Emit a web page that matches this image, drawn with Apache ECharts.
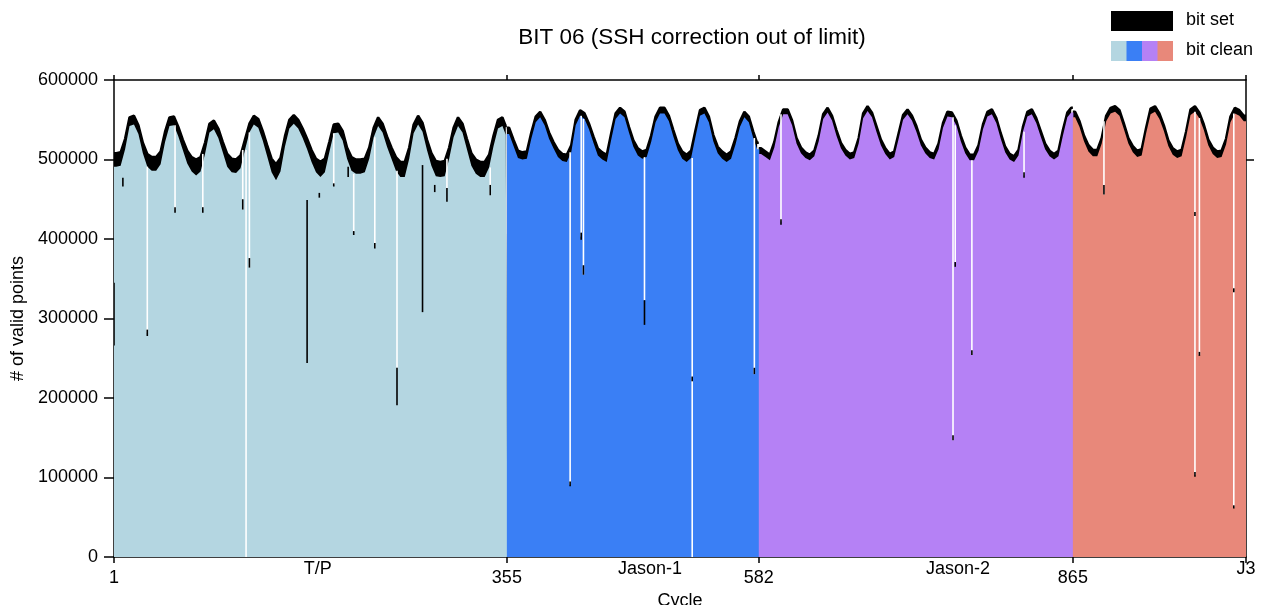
<!DOCTYPE html>
<html>
<head>
<meta charset="utf-8">
<script src="https://cdn.jsdelivr.net/npm/echarts@6/dist/echarts.min.js"></script>
<style>
html,body{margin:0;padding:0;background:#fff;}
#chart{width:1263px;height:605px;}
</style>
</head>
<body>
<div id="chart"></div>
<script>
// ---- data (values in thousands of valid points, one value per 4-cycle bin) ----
const BIN_CYCLES = 4;
const missionNames = ['T/P', 'Jason-1', 'Jason-2', 'J3'];
const missionStarts = [1, 355, 582, 865];
const missionEnds = [355, 582, 865, 1021];
const boundaryTicks = [1, 355, 582, 865, 1021];
const boundaryLabels = ['1', '355', '582', '865'];
const missionLabelCycles = [184.5, 484, 761.5, 1021];
const yTicks = [0, 100000, 200000, 300000, 400000, 500000, 600000];

const tpCleanK = [491,492,513,542,544,532,508,491,486,486,
  494,522,542,543,529,512,495,485,480,485,
  507,534,538,527,509,491,484,483,489,512,
  534,544,540,524,504,484,474,485,516,539,
  545,539,527,513,497,484,478,484,509,533,
  534,524,501,486,482,482,484,501,528,542,
  534,516,501,486,478,478,501,533,544,535,
  512,492,479,478,479,501,528,542,534,513,
  492,482,478,478,490,517,539,542,531];
const tpSetK = [17,17,13,11,11,11,13,16,17,17,
  16,13,11,11,12,13,16,18,20,18,
  14,11,11,12,13,16,17,17,16,13,
  11,11,11,12,14,17,20,17,13,11,
  11,11,12,13,15,17,19,17,13,11,
  11,12,14,17,18,18,17,14,12,11,
  11,13,14,17,19,19,14,11,11,11,
  13,16,19,19,19,14,12,11,11,13,
  16,18,19,19,16,13,11,11,11];

const j1CleanK = [532,517,502,500,501,526,547,553,543,526,
  514,503,498,497,509,543,555,551,538,521,
  505,500,497,525,551,558,553,534,516,505,
  501,503,522,547,558,558,548,529,512,501,
  497,502,529,555,558,547,523,508,501,497,
  501,519,541,553,547,527,513];
const j1SetK = [8,8,9,9,9,8,7,7,7,8,
  8,9,9,9,9,7,7,7,7,8,
  9,9,9,8,7,7,7,7,8,9,
  9,9,8,7,7,7,7,8,8,9,
  9,9,8,7,7,7,8,8,9,9,
  9,8,7,7,7,8,8];

const j2CleanK = [507,503,499,515,541,557,557,543,520,508,
  502,499,504,523,551,559,549,530,514,505,
  500,502,520,552,561,553,535,518,507,500,
  503,526,550,557,549,535,518,508,502,500,
  513,540,554,553,543,523,508,499,499,511,
  538,554,557,546,526,509,500,497,505,535,
  554,557,546,529,513,504,500,504,530,553,
  559];
const j2SetK = [7,7,7,7,6,6,6,6,7,7,
  7,7,7,7,6,6,6,7,7,7,
  7,7,7,6,6,6,7,7,7,7,
  7,7,6,6,6,7,7,7,7,7,
  7,6,6,6,6,7,7,7,7,7,
  6,6,6,6,7,7,7,7,7,6,
  6,6,6,7,7,7,7,7,7,6,
  6];

const j3CleanK = [553,541,523,510,504,504,520,548,558,560,
  555,538,520,509,503,505,533,557,560,551,
  536,517,506,502,504,528,556,560,552,537,
  518,507,502,503,519,547,558,555,548];
const j3SetK = [7,7,7,8,8,8,7,7,7,7,
  7,7,7,8,8,8,7,7,7,7,
  7,7,8,8,8,7,7,7,7,7,
  7,8,8,8,7,7,7,7,7];

// single cycles where the clean count drops: [cycle, value (k)]
const whiteDipsK = [[31,282],[56,437],[81,437],[117,437],[120,0],[123,364],[199,468],
  [217,409],[236,389],[256,238],[301,464],[340,455],[412,91],[422,403],[424,355],
  [479,323],[522,0],[578,230],[602,422],[757,147],[759,371],[774,254],[821,480],
  [893,456],[975,103],[979,254],[1010,62]];
// short "bit set" marks: [cycle, low (k), high (k)]
const blackMarksK = [[1,266,345],[9,466,477],[31,278,286],[56,433,440],[81,433,440],
  [117,437,450],[123,364,376],[175,244,449],[186,452,458],[199,466,470],[212,478,491],
  [217,405,410],[236,388,395],[256,191,238],[279,308,493],[290,459,468],[301,447,464],
  [340,455,468],[412,89,95],[422,399,408],[424,355,367],[479,292,323],[522,221,227],
  [578,230,238],[602,418,425],[757,147,153],[759,365,371],[774,254,260],[821,477,484],
  [893,456,468],[975,429,434],[975,101,107],[979,253,258],[1010,333,338],[1010,61,65]];

const missionColors = ['#b4d6e1', '#3a7ff5', '#b581f5', '#e8887a'];
const FONT = "'Liberation Sans', Helvetica, Arial, sans-serif";

// ---- build per-mission point lists (bin centres, plus mission edges) ----
// "bit set" is stacked on "bit clean": its area is drawn from 0 to clean+set and
// the clean area is painted over it, leaving the set band on top.
const EDGE_OVERLAP = 0.45; // cycles; hides anti-aliasing seams at mission joins
const cleanSeries = [tpCleanK, j1CleanK, j2CleanK, j3CleanK];
const setSeries = [tpSetK, j1SetK, j2SetK, j3SetK];
const bins = [];
const missionClean = [], missionTotal = [];
cleanSeries.forEach((arr, mi) => {
  const cl = [], tt = [];
  arr.forEach((c, i) => {
    const s = missionStarts[mi] + i * BIN_CYCLES;
    const e = Math.min(s + BIN_CYCLES, missionEnds[mi]);
    const clean = c * 1000, total = (c + setSeries[mi][i]) * 1000;
    bins.push([s, e, clean, total]);
    if (i === 0) { cl.push([s, clean]); tt.push([s, total]); }
    cl.push([(s + e) / 2, clean]);
    tt.push([(s + e) / 2, total]);
    if (i === arr.length - 1) { cl.push([e + EDGE_OVERLAP, clean]); tt.push([e, total]); }
  });
  missionClean.push(cl); missionTotal.push(tt);
});
function cleanAt(cycle) {
  for (const b of bins) if (cycle >= b[0] && cycle < b[1]) return b[2];
  return bins[bins.length - 1][2];
}
const whiteData = whiteDipsK.map(d => [d[0], d[1] * 1000, cleanAt(d[0])]);
const blackData = blackMarksK.map(d => [d[0], d[1] * 1000, d[2] * 1000]);

const chart = echarts.init(document.getElementById('chart'));

function lineRect(api, x, yLo, yHi, w, fill) {
  const a = api.coord([x, yHi]);
  const b = api.coord([x, yLo]);
  return { type: 'rect', shape: { x: a[0] - w / 2, y: a[1], width: w, height: b[1] - a[1] },
    style: { fill: fill } };
}

const axisLineStyle = { color: '#000', width: 1.5 };

const series = [];
missionClean.forEach((cl, mi) => {
  series.push({
    name: 'bit set', type: 'line', xAxisIndex: 0, yAxisIndex: 0,
    data: missionTotal[mi], showSymbol: false, symbol: 'none', silent: true, z: 1,
    lineStyle: { width: 2.5, color: '#000' },
    areaStyle: { color: '#000', opacity: 1, origin: 'start' }
  });
  series.push({
    name: 'bit clean', type: 'line', xAxisIndex: 0, yAxisIndex: 0,
    data: cl, showSymbol: false, symbol: 'none', silent: true, z: 2,
    lineStyle: { width: 0 },
    areaStyle: { color: missionColors[mi], opacity: 1, origin: 'start' }
  });
});
series.push({
  name: 'clean dips', type: 'custom', xAxisIndex: 0, yAxisIndex: 0, clip: true, silent: true, z: 3,
  data: whiteData, encode: { x: 0, y: [1, 2] },
  renderItem: (params, api) => lineRect(api, api.value(0), api.value(1), api.value(2), 1.6, '#ffffff')
});
series.push({
  name: 'bit set marks', type: 'custom', xAxisIndex: 0, yAxisIndex: 0, clip: true, silent: true, z: 4,
  data: blackData, encode: { x: 0, y: [1, 2] },
  renderItem: (params, api) => lineRect(api, api.value(0), api.value(1), api.value(2), 1.6, '#000000')
});

const option = {
  animation: false,
  backgroundColor: '#fff',
  textStyle: { fontFamily: FONT },
  title: {
    text: 'BIT 06 (SSH correction out of limit)',
    left: 687, top: 21, textAlign: 'center',
    textStyle: { fontFamily: FONT, fontSize: 22.5, fontWeight: 'normal', color: '#000' }
  },
  grid: { left: 114, right: 17, top: 80, bottom: 48, containLabel: false, outerBoundsMode: 'none' },
  xAxis: [
    {
      type: 'value', min: 1, max: 1021, position: 'bottom',
      name: 'Cycle', nameLocation: 'middle', nameGap: 28,
      nameTextStyle: { fontFamily: FONT, fontSize: 18, color: '#000' },
      axisLine: { show: true, lineStyle: axisLineStyle },
      axisTick: { show: true, inside: false, length: 6, customValues: boundaryTicks, lineStyle: axisLineStyle },
      axisLabel: { show: true, customValues: boundaryTicks.slice(0, 4), margin: 12,
        fontFamily: FONT, fontSize: 18, color: '#000',
        formatter: v => boundaryLabels[boundaryTicks.indexOf(v)] },
      splitLine: { show: false }
    },
    {
      type: 'value', min: 1, max: 1021, position: 'bottom',
      axisLine: { show: false }, axisTick: { show: false },
      axisLabel: { show: true, customValues: missionLabelCycles, margin: 3,
        fontFamily: FONT, fontSize: 18, color: '#000',
        formatter: v => missionNames[missionLabelCycles.indexOf(v)] },
      splitLine: { show: false }
    },
    {
      type: 'value', min: 1, max: 1021, position: 'top',
      axisLine: { show: true, lineStyle: axisLineStyle },
      axisTick: { show: true, inside: false, length: 5, customValues: boundaryTicks, lineStyle: axisLineStyle },
      axisLabel: { show: false }, splitLine: { show: false }
    }
  ],
  yAxis: [
    {
      type: 'value', min: 0, max: 600000, interval: 100000, position: 'left',
      name: '# of valid points', nameLocation: 'middle', nameGap: 84,
      nameTextStyle: { fontFamily: FONT, fontSize: 18, color: '#000' },
      axisLine: { show: true, lineStyle: axisLineStyle },
      axisTick: { show: true, inside: false, length: 10, lineStyle: axisLineStyle },
      axisLabel: { show: true, margin: 16, fontFamily: FONT, fontSize: 18, color: '#000',
        customValues: yTicks, formatter: v => String(v) },
      splitLine: { show: false }
    },
    {
      type: 'value', min: 0, max: 600000, position: 'right',
      axisLine: { show: true, lineStyle: axisLineStyle },
      axisTick: { show: true, inside: false, length: 8, customValues: [500000], lineStyle: axisLineStyle },
      axisLabel: { show: false }, splitLine: { show: false }
    }
  ],
  series: series,
  graphic: [
    { type: 'rect', left: 1111, top: 11, shape: { width: 62, height: 20 }, style: { fill: '#000' } },
    { type: 'rect', left: 1111, top: 41, shape: { width: 16, height: 20 }, style: { fill: missionColors[0] } },
    { type: 'rect', left: 1126.5, top: 41, shape: { width: 16, height: 20 }, style: { fill: missionColors[1] } },
    { type: 'rect', left: 1142, top: 41, shape: { width: 16, height: 20 }, style: { fill: missionColors[2] } },
    { type: 'rect', left: 1157.5, top: 41, shape: { width: 15.5, height: 20 }, style: { fill: missionColors[3] } },
    { type: 'text', left: 1186, top: 11, style: { text: 'bit set', font: "18px 'Liberation Sans', Helvetica, Arial, sans-serif", fill: '#000' } },
    { type: 'text', left: 1186, top: 41, style: { text: 'bit clean', font: "18px 'Liberation Sans', Helvetica, Arial, sans-serif", fill: '#000' } }
  ]
};
chart.setOption(option);
</script>
</body>
</html>
